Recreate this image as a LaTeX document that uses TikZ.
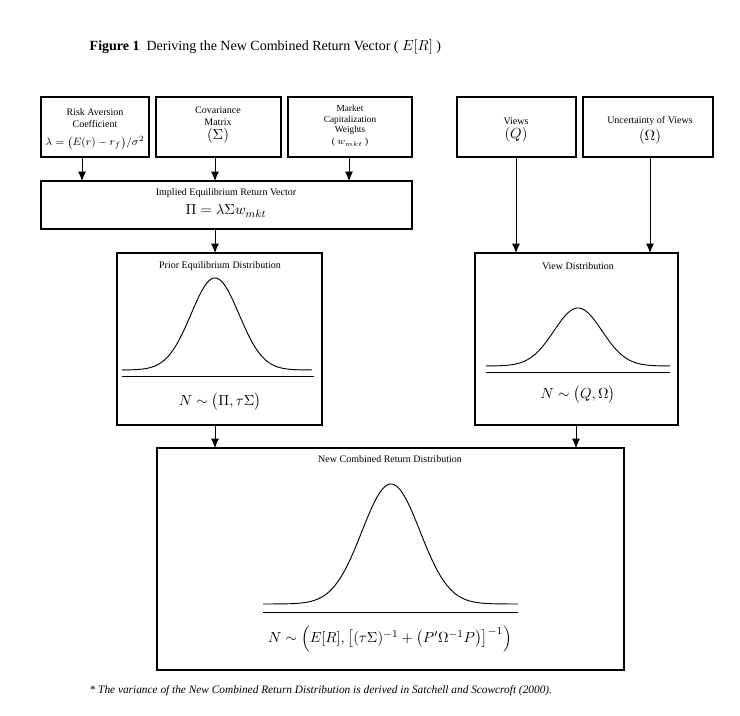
\documentclass[tikz,border=0pt]{standalone}
\usepackage{fontspec}
\setmainfont{Liberation Serif}
\usepackage{amsmath}
\usetikzlibrary{arrows.meta}
\begin{document}
\begin{tikzpicture}[x=0.75pt,y=-0.75pt,
 box/.style={draw,line width=0.8pt,rectangle,inner sep=0pt},
 arr/.style={-{Latex[length=7pt,width=6pt]},line width=0.7pt},
 lbl/.style={font=\fontsize{7.5}{8.5}\selectfont,align=center},
 fml/.style={font=\fontsize{11}{12}\selectfont},
 crv/.style={line width=0.7pt}]
\useasboundingbox (0,0) rectangle (740,716);
\node[anchor=west,font=\fontsize{10.5}{12}\selectfont] (title) at (85,47) {\textbf{Figure 1}\ \ Deriving the New Combined Return Vector ( $E[R]$ )};
% top boxes
\draw[box] (41,97) rectangle (149,157); \coordinate (ra) at (82,157);
\node[lbl] (risk) at (95,118) {Risk Aversion\\Coefficient};
\node[font=\fontsize{8}{9}\selectfont] (riskf) at (95,143) {$\lambda=\bigl(E(r)-r_f\bigr)/\sigma^2$};
\draw[box] (156,97) rectangle (281,157); \coordinate (ca) at (215,157);
\node[lbl] (cov) at (218,125) {Covariance\\Matrix\\[2pt]{\fontsize{11}{12}\selectfont$(\Sigma)$}};
\draw[box] (288,97) rectangle (412,157); \coordinate (ma) at (349,157);
\node[lbl,font=\fontsize{7}{8}\selectfont] (mkt) at (350,126) {Market\\Capitalization\\Weights\\[1pt]( $w_{\scriptscriptstyle mkt}$ )};
\draw[box] (457,97) rectangle (576,157); \coordinate (va) at (516,157);
\node[lbl] (views) at (516,130) {Views\\[2pt]{\fontsize{11}{12}\selectfont$(Q)$}};
\draw[box] (583,97) rectangle (713,157); \coordinate (ua) at (650,157);
\node[lbl] (unc) at (650,130) {Uncertainty of Views\\[2pt]{\fontsize{11}{12}\selectfont$(\Omega)$}};
% implied
\draw[box] (41,181) rectangle (412,229);
\coordinate (ia) at (82,181); \coordinate (ib) at (215,181); \coordinate (ic) at (349,181); \coordinate (io) at (215,229);
\node[lbl] (imp) at (226,193) {Implied Equilibrium Return Vector};
\node[fml] (impf) at (226,211) {$\Pi=\lambda\Sigma w_{mkt}$};
% prior
\draw[box] (117,253) rectangle (322,425);
\coordinate (pi) at (215,253); \coordinate (po) at (215,425);
\node[lbl] (prior) at (220,266) {Prior Equilibrium Distribution};
\draw[crv] plot[domain=122:312,samples=120,smooth] (\x,{370-92*exp(-((\x-215)/24)^2/2)});
\draw[crv] (122,376) -- (314,376);
\node[fml] (priorf) at (220,402) {$N\sim\bigl(\Pi,\tau\Sigma\bigr)$};
% view dist
\draw[box] (475,253) rectangle (678,425);
\coordinate (vi) at (516,253); \coordinate (ui) at (650,253); \coordinate (vo) at (576,425);
\node[lbl] (vdist) at (578,266) {View Distribution};
\draw[crv] plot[domain=486:670,samples=120,smooth] (\x,{366-58*exp(-((\x-578)/24)^2/2)});
\draw[crv] (486,372) -- (670,372);
\node[fml] (vf) at (578,395) {$N\sim\bigl(Q,\Omega\bigr)$};
% new combined
\draw[box] (157,448) rectangle (624,670);
\coordinate (ni) at (215,448); \coordinate (nj) at (576,448);
\node[lbl] (ncd) at (390,459) {New Combined Return Distribution};
\draw[crv] plot[domain=263:518,samples=150,smooth] (\x,{604-120*exp(-((\x-391)/29)^2/2)});
\draw[crv] (263,612) -- (518,612);
\node[fml] (nf) at (390,639) {$N\sim\Bigl(E[R],\bigl[(\tau\Sigma)^{-1}+\bigl(P'\Omega^{-1}P\bigr)\bigr]^{-1}\Bigr)$};
\node[anchor=west,font=\fontsize{8.5}{10}\selectfont\itshape] (foot) at (85,691) {* The variance of the New Combined Return Distribution is derived in Satchell and Scowcroft (2000).};
% arrows
\draw[arr] (ra) -- (ia);
\draw[arr] (ca) -- (ib);
\draw[arr] (ma) -- (ic);
\draw[arr] (io) -- (pi);
\draw[arr] (va) -- (vi);
\draw[arr] (ua) -- (ui);
\draw[arr] (po) -- (ni);
\draw[arr] (vo) -- (nj);
\end{tikzpicture}
\end{document}
